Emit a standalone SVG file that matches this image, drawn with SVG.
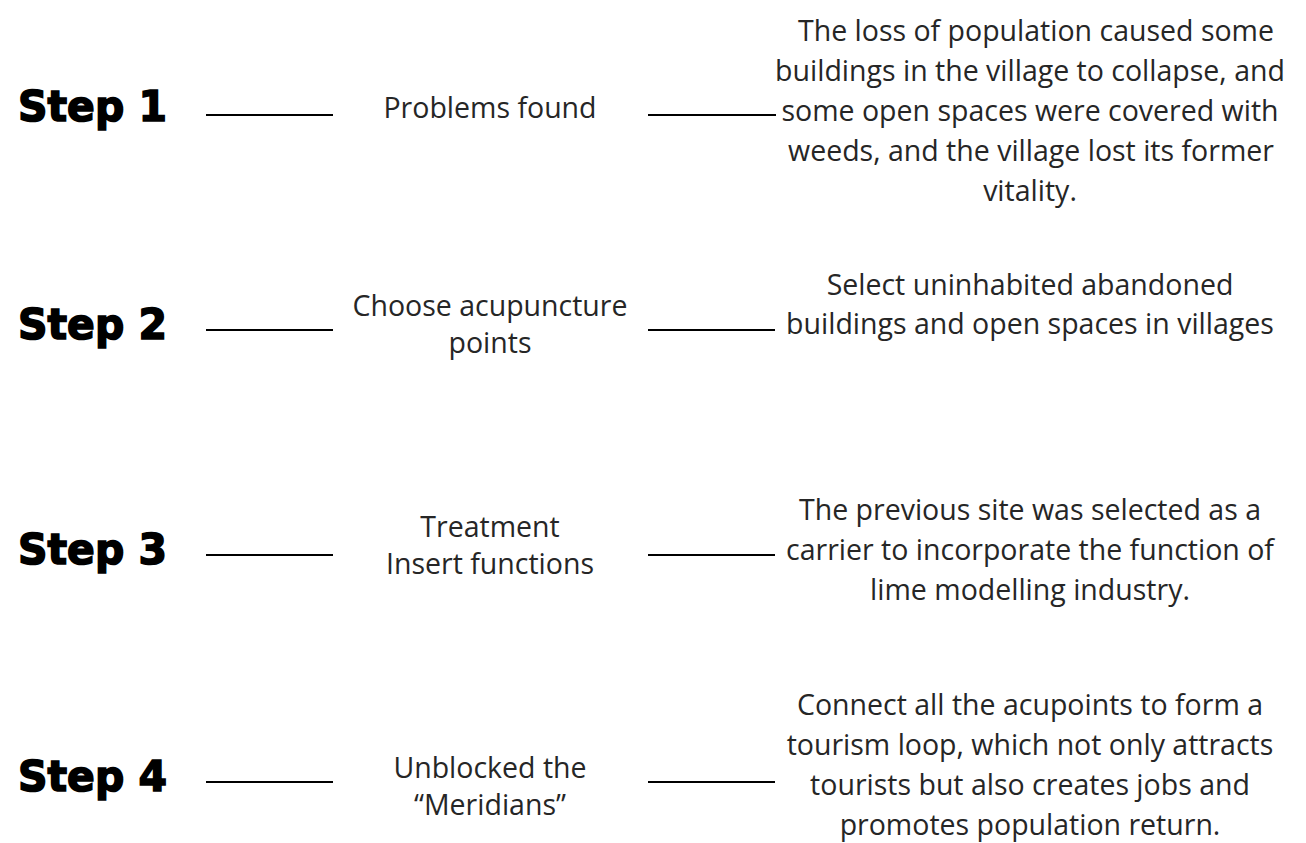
<svg xmlns="http://www.w3.org/2000/svg" width="1306" height="843" viewBox="0 0 1306 843">
<style>
.step{font-family:"DejaVu Sans",sans-serif;font-weight:bold;font-size:43px;fill:#000;stroke:#000;stroke-width:1.6px}
.t{font-family:"Open Sans",sans-serif;font-size:28.5px;fill:#262626;text-anchor:middle}
.c line{stroke:#000;stroke-width:2}
</style>
<rect width="1306" height="843" fill="#fff"/>
<g class="c" id="connectors">
<line x1="206" y1="115" x2="333" y2="115"/>
<line x1="648" y1="115" x2="776" y2="115"/>
<line x1="206" y1="330" x2="333" y2="330"/>
<line x1="648" y1="330" x2="775" y2="330"/>
<line x1="206" y1="555" x2="333" y2="555"/>
<line x1="648" y1="555" x2="775" y2="555"/>
<line x1="206" y1="782" x2="333" y2="782"/>
<line x1="648" y1="782" x2="775" y2="782"/>
</g>
<g id="step1"><text class="step" x="18" y="121" textLength="149" lengthAdjust="spacingAndGlyphs">Step 1</text></g>
<g id="step2"><text class="step" x="18" y="339" textLength="149" lengthAdjust="spacingAndGlyphs">Step 2</text></g>
<g id="step3"><text class="step" x="18" y="564" textLength="149" lengthAdjust="spacingAndGlyphs">Step 3</text></g>
<g id="step4"><text class="step" x="18" y="791" textLength="149" lengthAdjust="spacingAndGlyphs">Step 4</text></g>
<g id="mid1"><text class="t" x="490" y="118">Problems found</text></g>
<g id="mid2"><text class="t" x="490" y="316">Choose acupuncture</text><text class="t" x="490" y="353">points</text></g>
<g id="mid3"><text class="t" x="490" y="537">Treatment</text><text class="t" x="490" y="574">Insert functions</text></g>
<g id="mid4"><text class="t" x="490" y="778">Unblocked the</text><text class="t" x="490" y="815">“Meridians”</text></g>
<g id="desc1">
<text class="t" x="1036" y="41">The loss of population caused some</text>
<text class="t" x="1030" y="81">buildings in the village to collapse, and</text>
<text class="t" x="1030" y="121">some open spaces were covered with</text>
<text class="t" x="1031" y="161">weeds, and the village lost its former</text>
<text class="t" x="1030" y="201">vitality.</text>
</g>
<g id="desc2">
<text class="t" x="1030" y="295">Select uninhabited abandoned</text>
<text class="t" x="1030" y="334">buildings and open spaces in villages</text>
</g>
<g id="desc3">
<text class="t" x="1030" y="520">The previous site was selected as a</text>
<text class="t" x="1030" y="560">carrier to incorporate the function of</text>
<text class="t" x="1030" y="600">lime modelling industry.</text>
</g>
<g id="desc4">
<text class="t" x="1030" y="715">Connect all the acupoints to form a</text>
<text class="t" x="1030" y="755">tourism loop, which not only attracts</text>
<text class="t" x="1030" y="795">tourists but also creates jobs and</text>
<text class="t" x="1030" y="835">promotes population return.</text>
</g>
</svg>
